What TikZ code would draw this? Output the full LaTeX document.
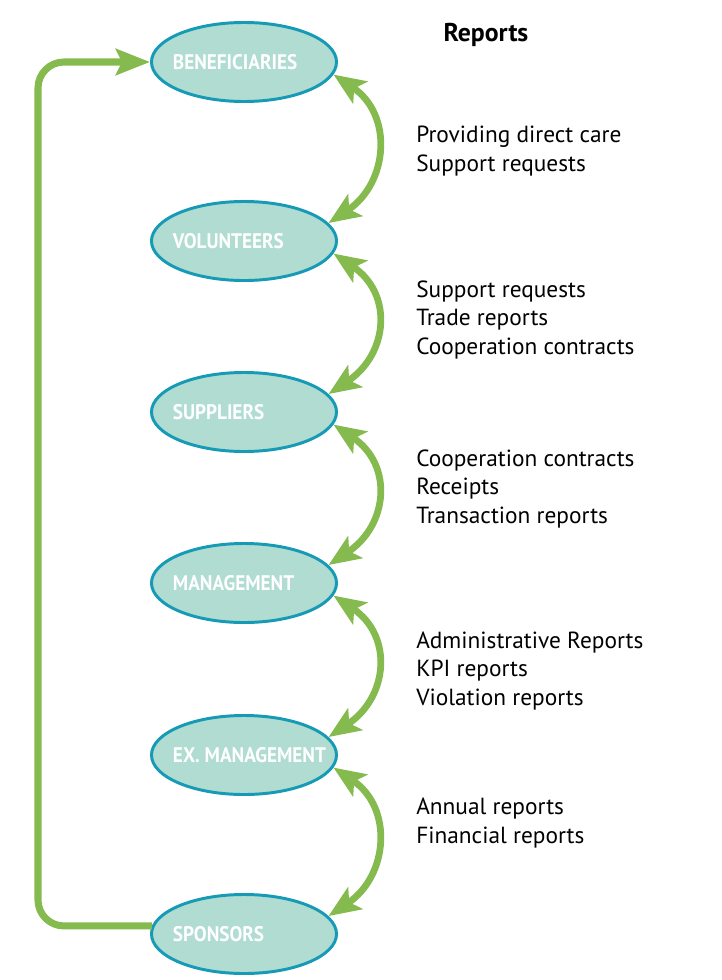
\documentclass[tikz,border=0pt]{standalone}
\usepackage{fontspec}
\setmainfont{PT Sans}
\newfontfamily\rolefont[FakeStretch=0.91]{PT Sans}
\usetikzlibrary{shapes.geometric,arrows.meta}

\definecolor{tealfill}{RGB}{176,220,209}
\definecolor{tealline}{RGB}{22,154,181}
\definecolor{leafgreen}{RGB}{132,186,78}

% role names start at the same left edge inside every ellipse
\newcommand\rolename[1]{\makebox[3.55cm][l]{#1}}

\tikzset{
  role/.style={ellipse,draw=tealline,fill=tealfill,line width=2.1pt,
    minimum width=4.625cm,minimum height=1.975cm,inner xsep=-5mm,inner ysep=0pt,
    text=white,font=\rolefont\fontsize{15}{16}\selectfont\bfseries},
  flow/.style={draw=leafgreen,line width=4.8pt,
    {Stealth[length=8mm,width=6.5mm,inset=1.8mm]}-{Stealth[length=8mm,width=6.5mm,inset=1.8mm]}},
  backflow/.style={draw=leafgreen,line width=5pt,rounded corners=0.65cm,
    -{Stealth[length=8.5mm,width=6.5mm,inset=1.5mm]}},
  reports/.style={anchor=west,align=left,inner sep=0pt,font=\fontsize{16.6}{20.6}\selectfont}
}

\begin{document}
\begin{tikzpicture}[x=0.025cm,y=-0.025cm]
  %%%%% START %%%%%
  \def\xc{244}
  \def\xtext{416}
  \def\xloop{38}
  \useasboundingbox (0,0) rectangle (722,980);

  \node[role] (be) at (\xc,62) {\rolename{BENEFICIARIES}};
  \node[role] (vo) at (\xc,241) {\rolename{VOLUNTEERS}};
  \node[role] (su) at (\xc,412) {\rolename{SUPPLIERS}};
  \node[role] (ma) at (\xc,583) {\rolename{MANAGEMENT}};
  \node[role] (ex) at (\xc,755) {\rolename{EX. MANAGEMENT}};
  \node[role] (sp) at (\xc,934) {\rolename{SPONSORS}};

  \draw[flow] (be.-8) .. controls +(60,40) and +(60,-40) .. (vo.12);
  \draw[flow] (vo.-8) .. controls +(60,40) and +(60,-40) .. (su.12);
  \draw[flow] (su.-8) .. controls +(60,40) and +(60,-40) .. (ma.12);
  \draw[flow] (ma.-8) .. controls +(60,40) and +(60,-40) .. (ex.12);
  \draw[flow] (ex.-8) .. controls +(60,40) and +(60,-40) .. (sp.12);

  \coordinate (turn) at (\xloop,0);
  \draw[backflow] (sp.175) -| (turn |- be.west) -- (be.west);

  \node[font=\fontsize{18.3}{20}\selectfont\bfseries] (title) at (486,35) {Reports};
  \node[reports] (r1) at (\xtext,151) {Providing direct care\\Support requests};
  \node[reports] (r2) at (\xtext,320) {Support requests\\Trade reports\\Cooperation contracts};
  \node[reports] (r3) at (\xtext,489) {Cooperation contracts\\Receipts\\Transaction reports};
  \node[reports] (r4) at (\xtext,671) {Administrative Reports\\KPI reports\\Violation reports};
  \node[reports] (r5) at (\xtext,823) {Annual reports\\Financial reports};
  %%%%% END %%%%%
\end{tikzpicture}
\end{document}
